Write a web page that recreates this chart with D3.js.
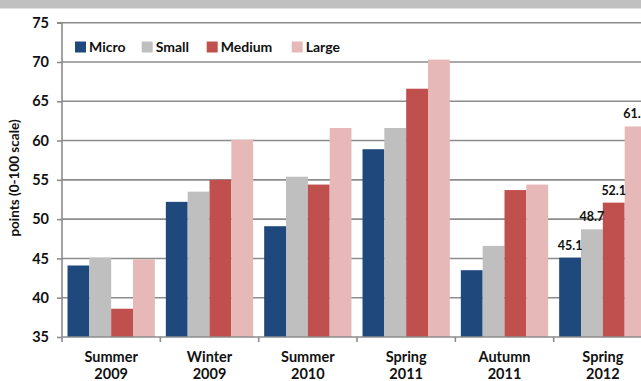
<!DOCTYPE html>
<html>
<head>
<meta charset="utf-8">
<script src="https://cdn.jsdelivr.net/npm/d3@7"></script>
<style>
  html, body { margin: 0; padding: 0; background: #fff; }
  svg { display: block; font-family: Lato, "Open Sans", sans-serif; font-weight: bold; }
</style>
</head>
<body>
<svg id="chart" width="641" height="381"></svg>
<script>
// Survey periods (two-line labels)
const categories = ["Summer 2009", "Winter 2009", "Summer 2010", "Spring 2011", "Autumn 2011", "Spring 2012"];
const seriesNames = ["Micro", "Small", "Medium", "Large"];
const seriesColors = ["#1f497d", "#bfbfbf", "#c0504d", "#e6b9b8"];

// Index points per firm size, one array per series
const micro  = [44.1, 52.2, 49.1, 58.9, 43.5, 45.1];
const small  = [45.1, 53.5, 55.4, 61.6, 46.6, 48.7];
const medium = [38.6, 55.0, 54.4, 66.6, 53.7, 52.1];
const large  = [44.9, 60.1, 61.6, 70.3, 54.4, 61.8];
const seriesValues = [micro, small, medium, large];

const yTicks = [35, 40, 45, 50, 55, 60, 65, 70, 75];
const labelledCategory = "Spring 2012";

const svg = d3.select("#chart");
const W = 641, H = 381;
const plot = { left: 62, right: 652, top: 22.7, bottom: 337 };

// Header band
svg.append("rect").attr("x", 0).attr("y", 0).attr("width", W).attr("height", 8.5).attr("fill", "#c0c0c0");

const x = d3.scaleBand().domain(categories).range([plot.left, plot.right]).paddingInner(0.112).paddingOuter(0.056);
const xs = d3.scaleBand().domain(seriesNames).range([0, x.bandwidth()]);
const y = d3.scaleLinear().domain([35, 75]).range([plot.bottom, plot.top]);

// Gridlines
svg.append("g").selectAll("line").data(yTicks.filter(t => t > 35)).join("line")
  .attr("x1", plot.left).attr("x2", W)
  .attr("y1", d => y(d)).attr("y2", d => y(d))
  .attr("stroke", "#8c8c8c").attr("stroke-width", 1.6);

// Bars
const rows = [];
categories.forEach((c, i) => seriesNames.forEach((s, j) => rows.push({ c, s, j, v: seriesValues[j][i] })));
svg.append("g").selectAll("rect").data(rows).join("rect")
  .attr("x", d => x(d.c) + xs(d.s))
  .attr("width", xs.bandwidth())
  .attr("y", d => y(d.v))
  .attr("height", d => y(35) - y(d.v))
  .attr("fill", d => seriesColors[d.j]);

// Value labels on the latest period
svg.append("g").selectAll("text").data(rows.filter(d => d.c === labelledCategory)).join("text")
  .attr("x", d => x(d.c) + xs(d.s) + xs.bandwidth() / 2)
  .attr("y", d => y(d.v) - 8)
  .attr("text-anchor", "middle")
  .attr("font-size", 12.5)
  .attr("fill", "#111")
  .text(d => d.v.toFixed(1));

// Y axis
const yAxis = svg.append("g").attr("transform", `translate(${plot.left},0)`)
  .call(d3.axisLeft(y).tickValues(yTicks).tickSize(5).tickPadding(8).tickFormat(d3.format("d")));
yAxis.select(".domain").attr("stroke", "#8c8c8c").attr("stroke-width", 1.6).attr("d", `M-5,${plot.top}H0V${plot.bottom}`);
yAxis.selectAll(".tick line").attr("stroke", "#8c8c8c").attr("stroke-width", 1.6);
yAxis.selectAll(".tick text").attr("font-size", 14.5).attr("fill", "#111").attr("font-family", "Lato, sans-serif").attr("font-weight", "bold");

// X axis baseline with ticks at category boundaries
const bounds = categories.map(c => x(c) - x.step() * x.paddingInner() / 2);
svg.append("line").attr("x1", plot.left).attr("x2", W).attr("y1", plot.bottom).attr("y2", plot.bottom)
  .attr("stroke", "#8c8c8c").attr("stroke-width", 1.6);
svg.append("g").selectAll("line").data(bounds).join("line")
  .attr("x1", d => d).attr("x2", d => d).attr("y1", plot.bottom).attr("y2", plot.bottom + 5)
  .attr("stroke", "#8c8c8c").attr("stroke-width", 1.6);

// Category labels
const cl = svg.append("g").selectAll("text").data(categories).join("text")
  .attr("x", d => x(d) + x.bandwidth() / 2)
  .attr("y", 362)
  .attr("text-anchor", "middle")
  .attr("font-size", 14.5)
  .attr("fill", "#111");
cl.each(function (d) {
  const parts = d.split(" ");
  const t = d3.select(this);
  t.append("tspan").attr("x", t.attr("x")).attr("dy", 0).text(parts[0]);
  t.append("tspan").attr("x", t.attr("x")).attr("dy", 17).text(parts[1]);
});

// Y axis title
svg.append("text")
  .attr("transform", "translate(19,178) rotate(-90)")
  .attr("text-anchor", "middle")
  .attr("font-size", 13.5)
  .attr("fill", "#111")
  .text("points (0-100 scale)");

// Legend
const legendX = [75, 141.7, 206.7, 291.7];
const lg = svg.append("g").selectAll("g").data(seriesNames).join("g")
  .attr("transform", (d, i) => `translate(${legendX[i]},41.5)`);
lg.append("rect").attr("width", 11).attr("height", 11).attr("fill", (d, i) => seriesColors[i]);
lg.append("text").attr("x", 14).attr("y", 10.5).attr("font-size", 14).attr("fill", "#111").text(d => d);
</script>
</body>
</html>
